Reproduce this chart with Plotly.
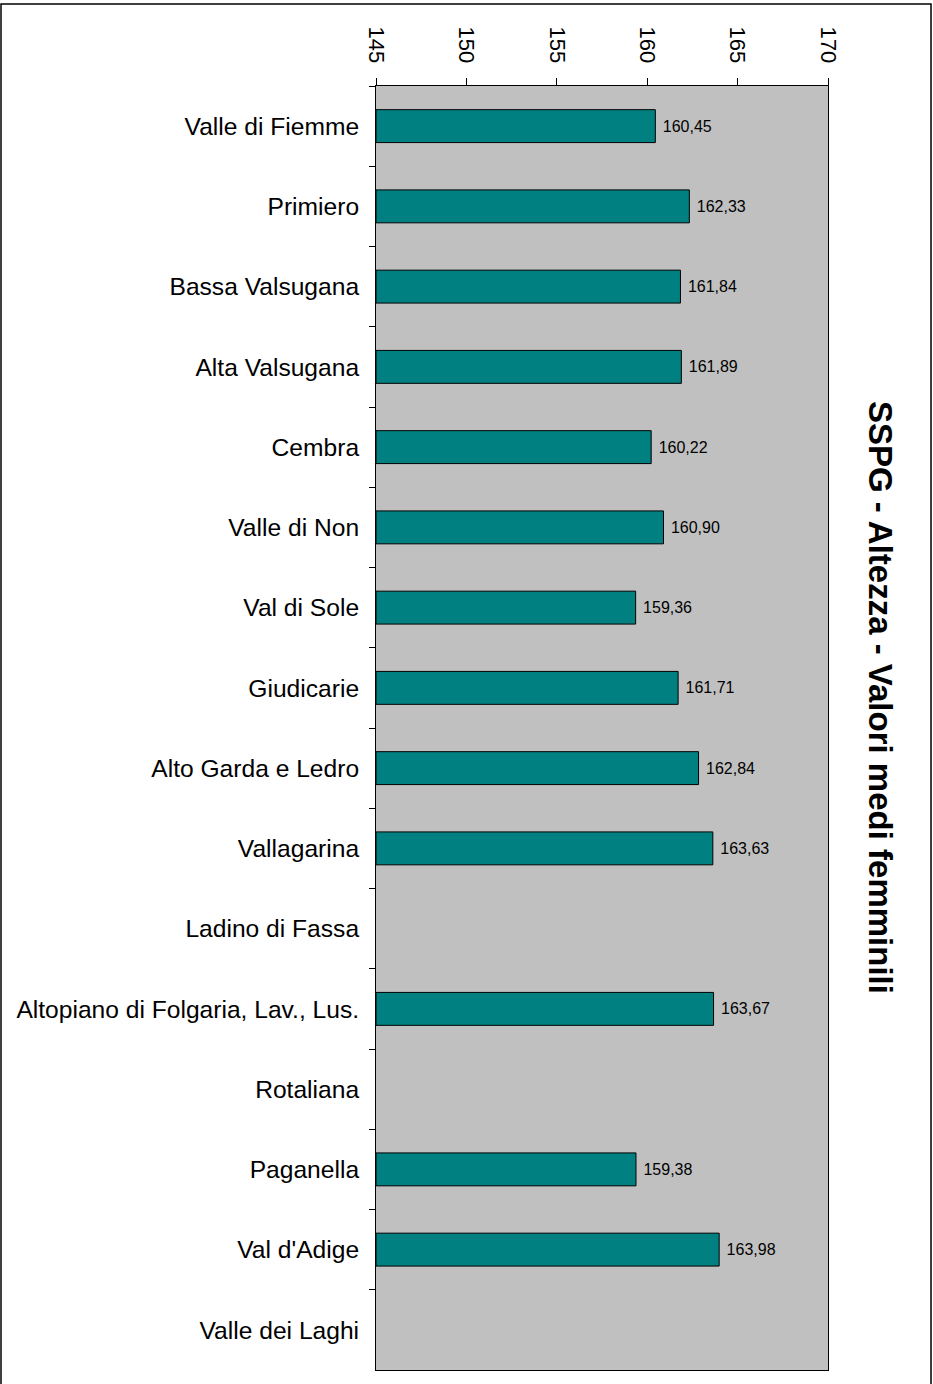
import plotly.graph_objects as go

categories = ["Valle di Fiemme", "Primiero", "Bassa Valsugana", "Alta Valsugana", "Cembra",
              "Valle di Non", "Val di Sole", "Giudicarie", "Alto Garda e Ledro", "Vallagarina",
              "Ladino di Fassa", "Altopiano di Folgaria, Lav., Lus.", "Rotaliana", "Paganella",
              "Val d'Adige", "Valle dei Laghi"]
values = [160.45, 162.33, 161.84, 161.89, 160.22, 160.90, 159.36, 161.71, 162.84, 163.63,
          None, 163.67, None, 159.38, 163.98, None]
x_range = [145, 170]
title_text = "SSPG - Altezza - Valori medi femminili"

W, H = 933, 1384
L, R, T, B = 376, 828, 86, 1370

base = x_range[0]
fig = go.Figure(go.Bar(
    x=[None if v is None else v - base for v in values], y=categories,
    orientation="h", base=base,
    marker=dict(color="#008080", line=dict(color="black", width=1)),
    text=[None if v is None else " " + f"{v:.2f}".replace(".", ",") for v in values],
    textposition="outside",
    textfont=dict(size=16, color="black", family="Liberation Sans"),
    cliponaxis=False, hoverinfo="skip",
))

fig.update_layout(
    width=W, height=H,
    margin=dict(l=L, r=W - R, t=T, b=H - B, pad=0),
    paper_bgcolor="white", plot_bgcolor="#C0C0C0",
    bargap=0.59, showlegend=False,
    font=dict(family="Liberation Sans", color="black"),
)
fig.update_xaxes(
    side="top", range=x_range, tickmode="linear", tick0=145, dtick=5,
    ticks="outside", ticklen=7, tickcolor="black", tickangle=90,
    tickfont=dict(size=22, family="Liberation Sans", color="black"),
    ticklabelstandoff=7,
    showgrid=False, zeroline=False, showline=True, linecolor="black", linewidth=1, mirror=True,
)
fig.update_yaxes(
    autorange="reversed", ticks="outside", tickson="boundaries", ticklen=6, tickcolor="black",
    tickfont=dict(size=24.6, family="Liberation Sans", color="black"),
    showgrid=False, showline=True, linecolor="black", linewidth=1, mirror=True,
    ticklabelstandoff=11,
)
pw, ph = R - L, B - T
fig.add_shape(type="rect", xref="paper", yref="paper",
              x0=(1 - L) / pw, x1=(931 - L) / pw,
              y0=(B - 1395) / ph, y1=(B - 4) / ph,
              line=dict(color="black", width=1.5), fillcolor="rgba(0,0,0,0)", layer="below")
fig.add_annotation(text=f"<b>{title_text}</b>", xref="paper", yref="paper",
                   x=(881 - L) / pw, y=(B - 697) / ph, showarrow=False, textangle=90,
                   font=dict(size=33, family="Liberation Sans", color="black"),
                   xanchor="center", yanchor="middle")
fig.write_html("out.html", config={"displayModeBar": False},
               post_script="document.body.style.margin='0';")
